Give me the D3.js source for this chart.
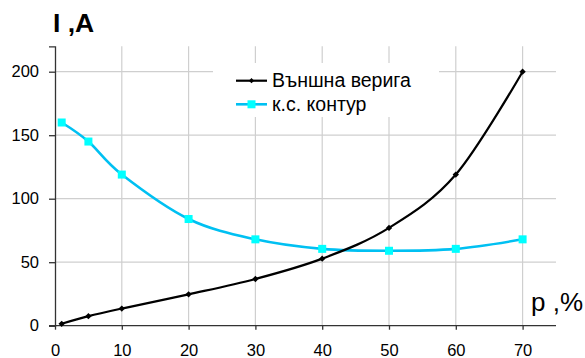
<!DOCTYPE html>
<html>
<head>
<meta charset="utf-8">
<script src="https://cdn.jsdelivr.net/npm/d3@7"></script>
<style>
  html, body { margin: 0; padding: 0; background: #fff; }
  svg { display: block; font-family: "Liberation Sans", Arial, sans-serif; }
</style>
</head>
<body>
<svg id="chart" width="585" height="358"></svg>
<script>
// Load percentage p, %
const pValues = [1, 5, 10, 20, 30, 40, 50, 60, 70];
// Current in the external circuit, A
const externalCircuit = [1.5, 7.5, 13.5, 24.7, 36.8, 52.8, 77, 119, 200];
// Current in the short-circuit loop, A
const shortCircuit = [160, 145, 119, 84, 68, 60.5, 59, 60.5, 68];

const seriesNames = ["Външна верига", "к.с. контур"];
const xTicks = [0, 10, 20, 30, 40, 50, 60, 70];
const yTicks = [0, 50, 100, 150, 200];
const yTitle = "I ,A";
const xTitle = "p ,%";

const svg = d3.select("#chart");

const x = d3.scaleLinear().domain([0, 75]).range([55, 556]);
const y = d3.scaleLinear().domain([0, 220]).range([325.7, 46.3]);

const gridColor = "#cfcfcf";
const axisColor = "#333";

// grid
svg.append("g").selectAll("line.h").data(yTicks.filter(d => d > 0)).join("line")
  .attr("x1", x(0)).attr("x2", x(75))
  .attr("y1", d => y(d)).attr("y2", d => y(d))
  .attr("stroke", gridColor).attr("stroke-width", 1.2);
svg.append("g").selectAll("line.v").data(xTicks.filter(d => d > 0)).join("line")
  .attr("x1", d => x(d)).attr("x2", d => x(d))
  .attr("y1", y(220)).attr("y2", y(0))
  .attr("stroke", gridColor).attr("stroke-width", 1.2);

// axes
const yAxis = d3.axisLeft(y).tickValues(yTicks).tickSize(6).tickPadding(10);
const gy = svg.append("g").attr("transform", `translate(${x(0)},0)`).call(yAxis);
gy.select(".domain").attr("stroke", axisColor).attr("stroke-width", 1.3);
gy.selectAll(".tick line").attr("stroke", axisColor).attr("stroke-width", 1.3);
gy.selectAll(".tick text").attr("font-size", 16.5).attr("fill", "#000")
  .attr("font-family", "Liberation Sans, Arial, sans-serif");

const xAxis = d3.axisBottom(x).tickValues(xTicks).tickSize(4).tickSizeOuter(0).tickPadding(15);
const gx = svg.append("g").attr("transform", `translate(0,${y(0)})`).call(xAxis);
gx.select(".domain").attr("stroke", axisColor).attr("stroke-width", 1.3)
  .attr("d", `M${x(0) - 6},0H${x(75)}`);
gx.selectAll(".tick line").attr("stroke", axisColor).attr("stroke-width", 1.3);
gx.selectAll(".tick text").attr("font-size", 16.5).attr("fill", "#000")
  .attr("font-family", "Liberation Sans, Arial, sans-serif");

// axis titles
svg.append("text").attr("x", 53).attr("y", 32.3)
  .attr("font-size", 26.5).attr("font-weight", "bold").text(yTitle);
svg.append("text").attr("x", 531).attr("y", 311)
  .attr("font-size", 26).text(xTitle);

// series
const blackCol = "#000";
const lineCyan = "#00c0f2";
const markCyan = "#00ffff";
const line = d3.line().x(d => x(d[0])).y(d => y(d[1])).curve(d3.curveCardinal.tension(0));

const extData = pValues.map((p, i) => [p, externalCircuit[i]]);
const scData = pValues.map((p, i) => [p, shortCircuit[i]]);

svg.append("path").datum(scData).attr("d", line)
  .attr("fill", "none").attr("stroke", lineCyan).attr("stroke-width", 2.6);
svg.append("path").datum(extData).attr("d", line)
  .attr("fill", "none").attr("stroke", blackCol).attr("stroke-width", 2.2);

// diamond markers on the external-circuit series
svg.append("g").selectAll("path").data(extData).join("path")
  .attr("transform", d => `translate(${x(d[0])},${y(d[1])}) rotate(45)`)
  .attr("d", d3.symbol().type(d3.symbolSquare).size(20))
  .attr("fill", blackCol);

// square markers on the short-circuit series
svg.append("g").selectAll("rect").data(scData).join("rect")
  .attr("x", d => x(d[0]) - 4).attr("y", d => y(d[1]) - 4)
  .attr("width", 8).attr("height", 8).attr("fill", markCyan);

// legend
const lg = svg.append("g");
lg.append("rect").attr("x", 213).attr("y", 63).attr("width", 226).attr("height", 54).attr("fill", "#fff");
const legendItems = [
  { name: seriesNames[0], stroke: blackCol, ly: 80.7, ty: 87 },
  { name: seriesNames[1], stroke: lineCyan, ly: 104.3, ty: 110.6 }
];
legendItems.forEach((it, i) => {
  lg.append("line").attr("x1", 236).attr("x2", 267).attr("y1", it.ly).attr("y2", it.ly)
    .attr("stroke", it.stroke).attr("stroke-width", i === 0 ? 2.2 : 2.6);
  if (i === 0) {
    lg.append("path").attr("transform", `translate(251.5,${it.ly}) rotate(45)`)
      .attr("d", d3.symbol().type(d3.symbolSquare).size(14)).attr("fill", blackCol);
  } else {
    lg.append("rect").attr("x", 247.5).attr("y", it.ly - 4).attr("width", 8).attr("height", 8)
      .attr("fill", markCyan);
  }
  lg.append("text").attr("x", 272).attr("y", it.ty).attr("font-size", 19.5).text(it.name);
});
</script>
</body>
</html>
